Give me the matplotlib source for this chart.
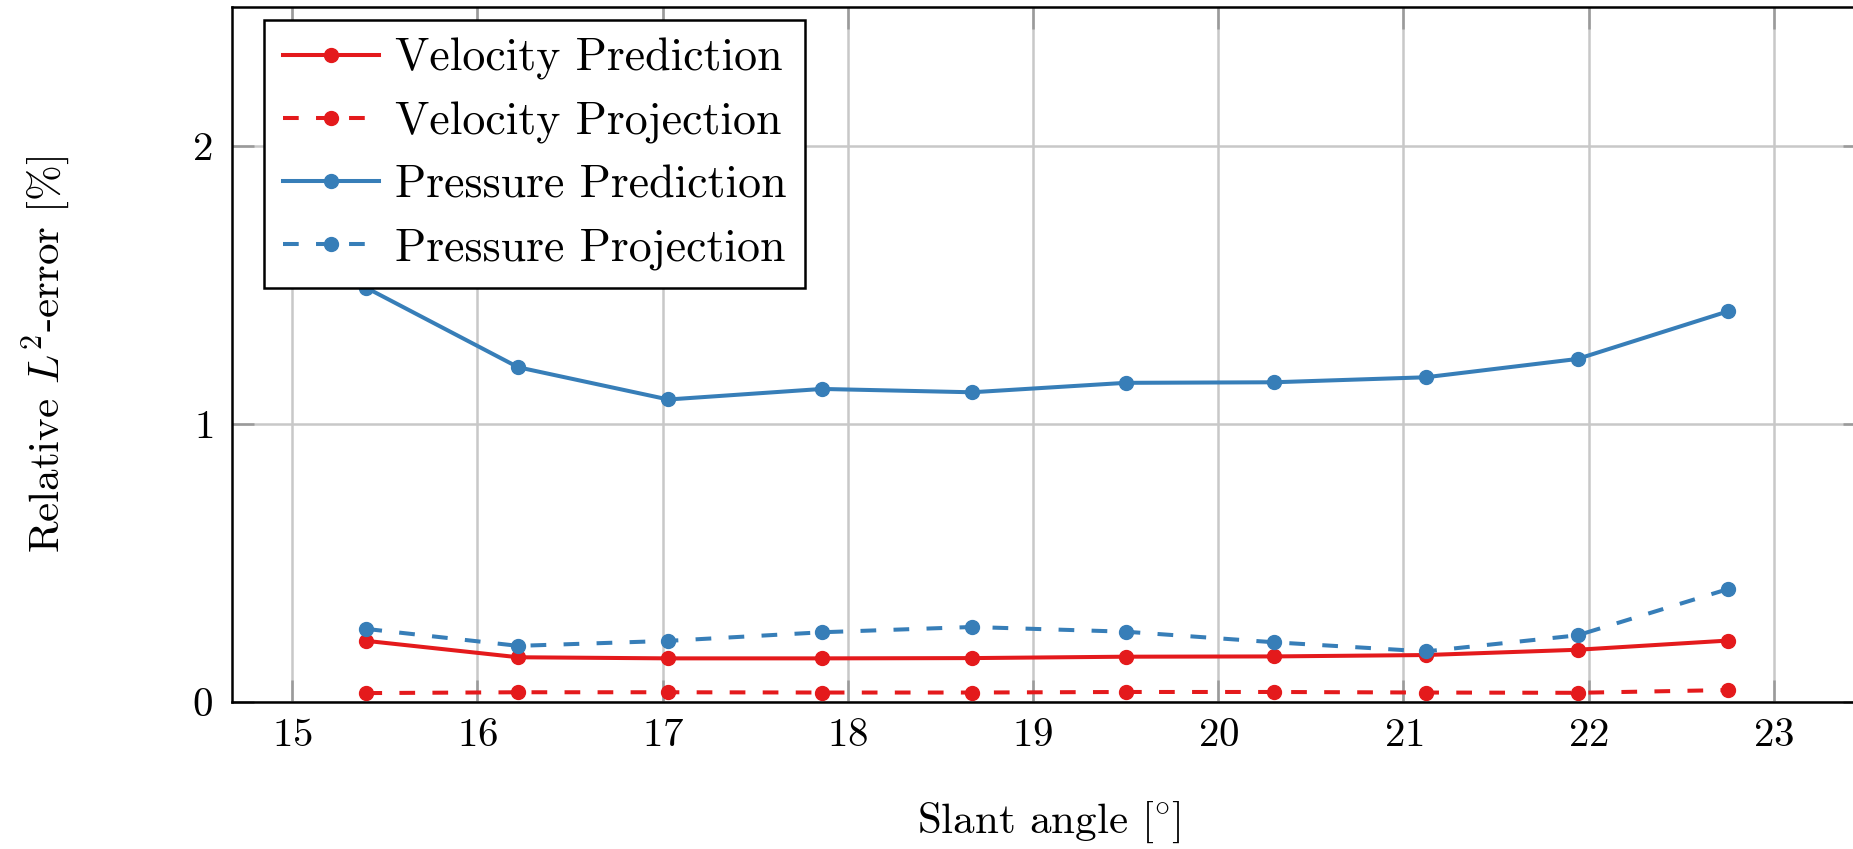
import matplotlib
matplotlib.use("Agg")
import matplotlib.pyplot as plt

# ---- data ----
slant_angle = [15.40, 16.22, 17.03, 17.86, 18.67, 19.50, 20.30, 21.12, 21.94, 22.75]
velocity_prediction = [0.219, 0.160, 0.156, 0.156, 0.157, 0.162, 0.163, 0.168, 0.187, 0.220]
velocity_projection = [0.031, 0.034, 0.034, 0.033, 0.033, 0.035, 0.035, 0.033, 0.032, 0.042]
pressure_prediction = [1.49, 1.204, 1.088, 1.126, 1.114, 1.148, 1.150, 1.168, 1.234, 1.405]
pressure_projection = [0.262, 0.201, 0.219, 0.250, 0.269, 0.252, 0.214, 0.181, 0.239, 0.405]
x_ticks = [15, 16, 17, 18, 19, 20, 21, 22, 23]
y_ticks = [0, 1, 2]
labels = ["Velocity Prediction", "Velocity Projection", "Pressure Prediction", "Pressure Projection"]

RED = "#E41A1C"
BLUE = "#377EB8"

plt.rcParams["font.family"] = "cmr10"
plt.rcParams["mathtext.fontset"] = "cm"
plt.rcParams["axes.formatter.use_mathtext"] = True
FS = 29.5
LFS = 33

fig = plt.figure(figsize=(18.53, 8.49), dpi=100)
W, H = 1853, 849
left, right, bottom, top = 232.3, 1864.6, 701.7, 7.3
ax = fig.add_axes([left / W, 1 - bottom / H, (right - left) / W, (bottom - top) / H])

lw = 2.9
ms = 10
dash = (3.9, 4.3)
ax.plot(slant_angle, velocity_prediction, color=RED, lw=lw, marker="o", ms=ms, label=labels[0], zorder=3)
ax.plot(slant_angle, velocity_projection, color=RED, lw=lw, marker="o", ms=ms, dashes=dash, label=labels[1], zorder=3)
ax.plot(slant_angle, pressure_prediction, color=BLUE, lw=lw, marker="o", ms=ms, label=labels[2], zorder=3)
ax.plot(slant_angle, pressure_projection, color=BLUE, lw=lw, marker="o", ms=ms, dashes=dash, label=labels[3], zorder=3)

ax.set_xlim(14.676, 23.49)
ax.set_ylim(0, 2.5)
ax.set_xticks(x_ticks)
ax.set_yticks(y_ticks)
ax.grid(True, color="#c8c8c8", lw=1.8)
ax.set_axisbelow(True)
ax.tick_params(direction="in", length=16, width=1.8, color="#9a9a9a", labelsize=FS,
               top=True, right=True, pad=12)
ax.tick_params(axis="y", pad=14)
for s in ax.spines.values():
    s.set_linewidth(1.8)
    s.set_color("black")

ax.set_xlabel(r"Slant angle [$\!^\circ\!$]", fontsize=31, labelpad=33)
ax.set_ylabel(r"Relative $L^2$-error [%]", fontsize=31, labelpad=86)

leg = ax.legend(loc="upper left", bbox_to_anchor=(0.0196, 0.982), fontsize=LFS, frameon=True,
                fancybox=False, edgecolor="black", framealpha=1, handlelength=2.1,
                handletextpad=0.35, labelspacing=0.46, borderpad=0.4, borderaxespad=0)
leg.get_frame().set_linewidth(1.8)

fig.savefig("out.png", dpi=100)
